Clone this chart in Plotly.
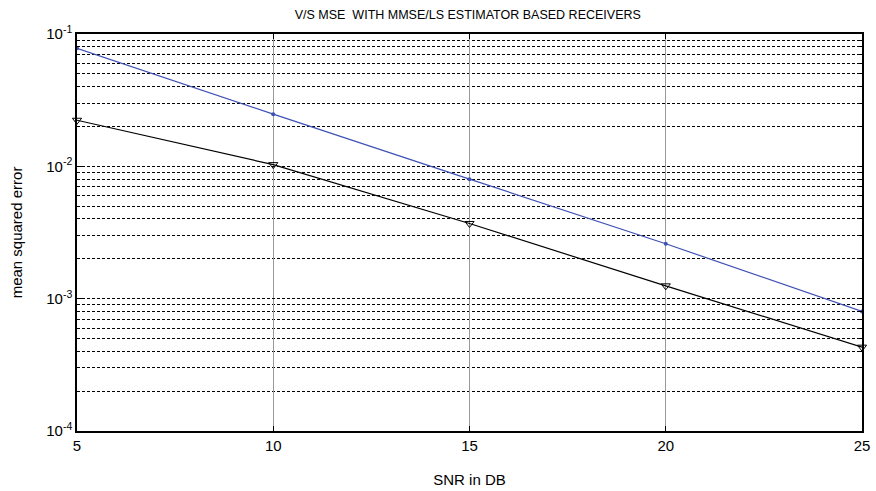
import plotly.graph_objects as go

snr_db = [5, 10, 15, 20, 25]
mse_blue = [0.078, 0.0248, 0.0080, 0.0026, 0.00080]
mse_black = [0.0223, 0.0103, 0.0037, 0.00125, 0.00043]
x_ticks = [5, 10, 15, 20, 25]
y_tickvals = [1e-4, 1e-3, 1e-2, 1e-1]
y_ticktext = ["10<sup>-4</sup>", "10<sup>-3</sup>", "10<sup>-2</sup>", "10<sup>-1</sup>"]

fig = go.Figure()
fig.add_trace(go.Scatter(
    x=snr_db, y=mse_blue, mode="lines+markers", cliponaxis=False,
    line=dict(color="#3f51b5", width=1.2),
    marker=dict(symbol="circle", size=4, color="#3f51b5"),
    showlegend=False))
fig.add_trace(go.Scatter(
    x=snr_db, y=mse_black, mode="lines+markers", cliponaxis=False,
    line=dict(color="black", width=1.2),
    marker=dict(symbol="triangle-down-open", size=8, color="black", line=dict(width=1)),
    showlegend=False))

font = dict(family="Liberation Sans, Arial, sans-serif", size=15, color="black")

fig.update_layout(
    width=876, height=491,
    margin=dict(l=77, r=14, t=34, b=60, autoexpand=False),
    paper_bgcolor="white", plot_bgcolor="white",
    font=font,
    title=dict(text="V/S MSE\u00a0 WITH MMSE/LS ESTIMATOR BASED RECEIVERS",
               x=0.534, xanchor="center", y=0.97, yanchor="middle",
               font=dict(family="Liberation Sans, Arial, sans-serif", size=12.5, color="black")),
    xaxis=dict(
        range=[5, 25], tickvals=x_ticks, ticks="inside", ticklen=5, tickcolor="black",
        showline=True, linecolor="black", linewidth=1.5, mirror="ticks",
        showgrid=True, gridcolor="#999999", gridwidth=1,
        zeroline=False, automargin=False,
        title=dict(text="SNR in DB", standoff=22, font=font),
        tickfont=font,
    ),
    yaxis=dict(
        type="log", range=[-4, -1], tickvals=y_tickvals, ticktext=y_ticktext,
        ticks="inside", ticklen=5, tickcolor="black",
        showline=True, linecolor="black", linewidth=1.5, mirror="ticks",
        showgrid=True, gridcolor="black", gridwidth=1, griddash="3px,2px",
        minor=dict(tickvals=[m * 10 ** e for e in (-4, -3, -2) for m in range(2, 10)],
                   showgrid=True, gridcolor="black", gridwidth=1, griddash="3px,2px",
                   ticks="inside", ticklen=3, tickcolor="black"),
        zeroline=False, automargin=False,
        title=dict(text="mean squared error", standoff=20, font=font),
        tickfont=font,
    ),
)

fig.write_html("out.html",
               config={"displayModeBar": False},
               post_script="document.body.style.margin='0';document.body.style.overflow='hidden';")
